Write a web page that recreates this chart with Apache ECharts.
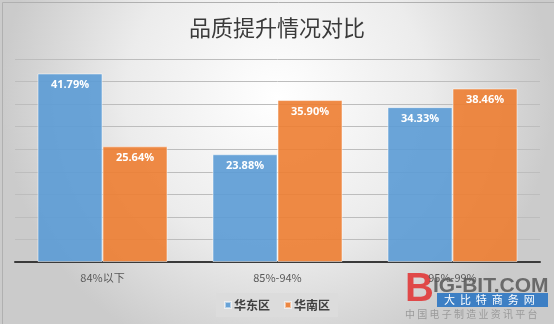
<!DOCTYPE html>
<html>
<head>
<meta charset="utf-8">
<script src="https://cdn.jsdelivr.net/npm/echarts@6/dist/echarts.min.js"></script>
<style>
html,body{margin:0;padding:0;}
#c{width:554px;height:324px;}
</style>
</head>
<body>
<div id="c"></div>
<script>
const titleText = '品质提升情况对比';
const categories = ['84%以下', '85%-94%', '95%-99%'];
const seriesNames = ['华东区', '华南区'];
const eastValues = [41.79, 23.88, 34.33];
const southValues = [25.64, 35.90, 38.46];

const chart = echarts.init(document.getElementById('c'));
const labelCfg = {
  show: true,
  position: 'insideTop',
  distance: 6,
  color: '#ffffff',
  fontWeight: 'bold',
  fontSize: 11,
  fontFamily: 'Open Sans, sans-serif',
  formatter: p => p.value.toFixed(2) + '%'
};
chart.setOption({
  animation: false,
  backgroundColor: {
    type: 'radial', x: 0.5, y: 0.3, r: 0.85,
    colorStops: [
      {offset: 0, color: '#ffffff'},
      {offset: 0.55, color: '#ececec'},
      {offset: 1, color: '#cbcbcb'}
    ]
  },
  title: {
    text: titleText,
    left: 'center',
    top: 12,
    textStyle: {fontSize: 22, fontWeight: 'normal', color: '#3a3a3a', fontFamily: 'Noto Sans CJK SC'}
  },
  legend: {
    bottom: 7,
    left: 'center',
    icon: 'rect',
    itemWidth: 6,
    itemHeight: 6,
    itemGap: 14,
    backgroundColor: '#dcdcdc',
    padding: [6, 8],
    textStyle: {fontSize: 12, color: '#404040', fontWeight: 'bold', fontFamily: 'Noto Sans CJK SC', padding: [0, 0, 0, -2]},
    data: seriesNames
  },
  grid: {left: 15, right: 14, top: 59, bottom: 62},
  xAxis: {
    type: 'category',
    data: categories,
    axisLine: {lineStyle: {color: '#3a3a3a', width: 2}},
    axisTick: {show: false},
    axisLabel: {fontSize: 11, color: '#595959', margin: 10, fontFamily: 'Noto Sans CJK SC'}
  },
  yAxis: {
    type: 'value',
    min: 0, max: 45, interval: 5,
    axisLabel: {show: false},
    axisLine: {show: false},
    axisTick: {show: false},
    splitLine: {lineStyle: {color: '#bdbdbd', width: 1}}
  },
  series: [
    {
      name: seriesNames[0], type: 'bar', data: eastValues,
      barWidth: 65, barGap: '0%',
      itemStyle: {color: 'rgba(91,155,213,0.9)', borderColor: 'rgba(255,255,255,0.5)', borderWidth: 1},
      label: labelCfg
    },
    {
      name: seriesNames[1], type: 'bar', data: southValues,
      barWidth: 65,
      itemStyle: {color: 'rgba(237,125,49,0.9)', borderColor: 'rgba(255,255,255,0.5)', borderWidth: 1},
      label: labelCfg
    }
  ],
  graphic: [
    {type: 'rect', left: 0, top: 0, shape: {width: 553, height: 323}, style: {fill: 'none', stroke: '#b0b0b0', lineWidth: 1}, silent: true},
    {type: 'text', left: 405, top: 270, style: {text: 'B', fontSize: 40, fontWeight: 'bold', fill: '#e04848', fontFamily: 'Liberation Sans'}},
    {type: 'text', left: 433, top: 276, style: {text: 'IG-BIT.COM', fontSize: 21, fontWeight: 'bold', fill: '#6a6a6a', fontFamily: 'Liberation Sans'}},
    {type: 'rect', left: 437, top: 293, shape: {width: 111, height: 14}, style: {fill: '#3d7fc4'}},
    {type: 'text', left: 444, top: 294, style: {text: '大  比  特  商  务  网', fontSize: 11, fill: '#ffffff', fontFamily: 'Noto Sans CJK SC'}},
    {type: 'text', left: 405, top: 309, style: {text: '中 国 电 子 制 造 业 资 讯 平 台', fontSize: 10, fill: '#9a9a9a', fontFamily: 'Noto Sans CJK SC'}}
  ]
});
</script>
</body>
</html>
